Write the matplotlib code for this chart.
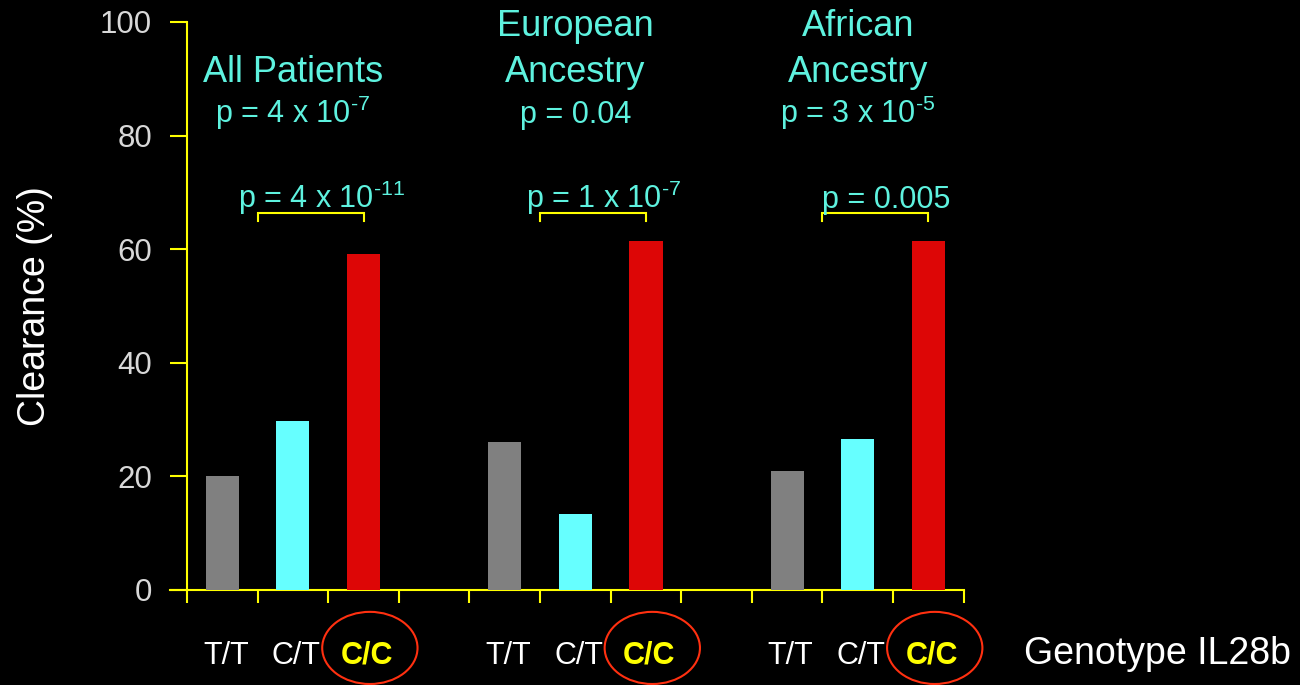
import matplotlib
matplotlib.use("Agg")
import matplotlib.pyplot as plt
from matplotlib.patches import Ellipse

plt.rcParams["font.family"] = ["Liberation Sans", "DejaVu Sans"]
plt.rcParams["mathtext.fontset"] = "custom"
plt.rcParams["mathtext.rm"] = "Liberation Sans"
plt.rcParams["mathtext.it"] = "Liberation Sans"

# Data
GENOTYPES = ["T/T", "C/T", "C/C"]
GROUP_TITLES = ["All Patients", "European\nAncestry", "African\nAncestry"]
GROUP_P = [r"p = 4 x 10$^{\text{-7}}$", "p = 0.04", r"p = 3 x 10$^{\text{-5}}$"]
PAIR_P = [r"p = 4 x 10$^{\text{-11}}$", r"p = 1 x 10$^{\text{-7}}$", "p = 0.005"]
CLEARANCE = [
    [20.0, 29.8, 59.2],   # all patients
    [26.1, 13.4, 61.4],   # european ancestry
    [21.0, 26.6, 61.4],   # african ancestry
]
Y_TICKS = [0, 20, 40, 60, 80, 100]

BAR_COLORS = ["#808080", "#66ffff", "#dd0606"]
AXIS_COLOR = "#ffff00"
TEXT_CYAN = "#5ef2df"
SLOTS_PER_GROUP = 4   # 3 bars + 1 empty gap slot

fig = plt.figure(figsize=(13, 6.85), dpi=100, facecolor="black")
ax = fig.add_axes([0.1308, 0.1387, 0.6105, 0.8292])
ax.set_facecolor("black")

for side in ("top", "right"):
    ax.spines[side].set_visible(False)
ax.spines["left"].set_position(("data", 0))

for g, vals in enumerate(CLEARANCE):
    xs = [g * SLOTS_PER_GROUP + i + 0.5 for i in range(len(vals))]
    ax.bar(xs, vals, width=0.47, color=BAR_COLORS, zorder=3)

    # group heading + overall p value, centred over the middle bar
    lines = GROUP_TITLES[g].split("\n")
    for k, line in enumerate(reversed(lines)):
        ax.text(xs[1], 89.4 + k * 8.1, line, color=TEXT_CYAN, fontsize=26,
                ha="center", va="baseline", clip_on=False)
    ax.text(xs[1], 82.2, GROUP_P[g], color=TEXT_CYAN, fontsize=22,
            ha="center", va="baseline", clip_on=False)

    # bracket between C/T and C/C
    x0, x1 = xs[1] - 0.5, xs[2]
    ax.plot([x0, x0, x1, x1], [65.0, 66.4, 66.4, 65.0], color=AXIS_COLOR,
            lw=1.5, solid_joinstyle="miter")
    ax.text((x0 + x1) / 2 + 0.15, 67.3, PAIR_P[g], color=TEXT_CYAN, fontsize=22,
            ha="center", va="baseline", clip_on=False)

    # genotype labels under the axis
    for i, gt in enumerate(GENOTYPES):
        if gt == "C/C":
            ax.text(xs[i] + 0.05, -13.0, gt, color="#ffff00", fontsize=22,
                    fontweight="bold", ha="center", va="baseline", clip_on=False)
            ax.add_patch(Ellipse((xs[i] + 0.09, -10.2), 1.35, 12.7, fill=False,
                                 edgecolor="#ff3010", lw=1.5, clip_on=False))
        else:
            ax.text(xs[i] + 0.05, -13.0, gt, color="white", fontsize=22,
                    ha="center", va="baseline", clip_on=False)

n_slots = len(CLEARANCE) * SLOTS_PER_GROUP - 1
ax.text(n_slots + 0.86, -13.0, "Genotype IL28b", color="white", fontsize=27,
        ha="left", va="baseline", clip_on=False)

ax.set_xlim(-0.24, n_slots)
ax.set_ylim(0, 100)
ax.set_xticks(range(n_slots + 1))
ax.set_xticklabels([])
ax.set_yticks(Y_TICKS)
ax.set_yticklabels([str(t) for t in Y_TICKS])

for side in ("left", "bottom"):
    ax.spines[side].set_color(AXIS_COLOR)
    ax.spines[side].set_linewidth(1.5)
ax.tick_params(axis="x", direction="out", length=9.5, width=1.5, color=AXIS_COLOR)
ax.tick_params(axis="y", direction="out", length=12.2, width=1.5, color=AXIS_COLOR,
               pad=13, labelcolor="#d8d8d8", labelsize=22.5)

ax.set_ylabel("Clearance (%)", color="white", fontsize=27)
ax.yaxis.set_label_coords(-0.148, 0.5)

fig.savefig("out.png", dpi=100, facecolor="black")
